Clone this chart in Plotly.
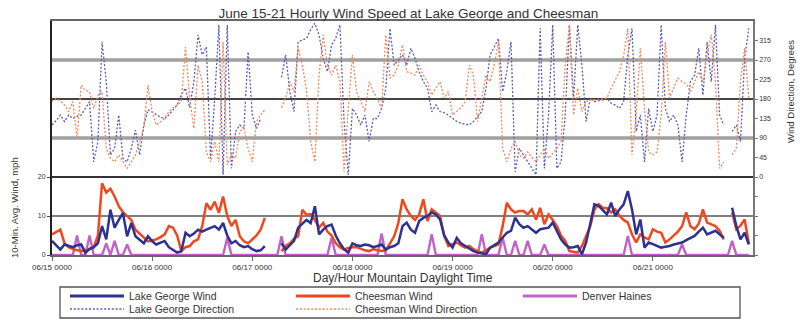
import plotly.graph_objects as go

# ---------------- data (hourly, 06/15 00:00 .. 06/21 23:00) ----------------
hours = list(range(168))
day_ticks = [0, 24, 48, 72, 96, 120, 144]
day_labels = ["06/15 0000", "06/16 0000", "06/17 0000", "06/18 0000",
              "06/19 0000", "06/20 0000", "06/21 0000"]

lake_george_wind = [
    3.6, 2.5, 1.4, 2.7, 2.3, 2.0, 2.5, 2.7, 0.6, 1.5,
    2.0, 3.0, 7.4, 4.0, 11.6, 7.0, 9.0, 10.8, 4.8, 8.2,
    4.8, 4.0, 3.0, 4.8, 3.5, 2.7, 3.2, 3.6, 2.0, 1.2,
    0.6, 1.0, 5.7, 4.8, 5.5, 6.5, 6.0, 6.5, 7.0, 7.4,
    6.5, 8.2, 5.0, 3.0, 3.6, 2.5, 2.0, 2.3, 1.5, 1.0,
    1.2, 2.3, None, None, None, 3.0, 1.4, 2.5, 3.6, 7.0,
    8.0, 9.0, 8.2, 12.5, 5.3, 6.5, 7.4, 7.8, 5.0, 3.0,
    1.5, 0.6, 3.0, 2.5, 2.3, 2.7, 2.5, 2.0, 2.3, 2.7,
    1.4, 2.0, 2.3, 3.0, 7.4, 8.3, 6.5, 5.7, 8.7, 9.5,
    10.0, 10.9, 10.4, 9.1, 5.0, 3.2, 1.9, 4.4, 3.0, 2.3,
    1.5, 1.0, 0.6, 0.4, 0.2, 1.9, 2.5, 3.2, 4.5, 5.7,
    6.2, 9.6, 7.9, 7.0, 7.4, 6.5, 5.7, 6.6, 6.8, 7.0,
    8.3, 6.2, 4.0, 2.7, 1.9, 2.0, 2.3, 0.2, 3.2, 8.0,
    13.0, 12.6, 11.5, 10.4, 13.4, 10.0, 11.7, 13.0, 16.4, 11.7,
    5.3, 9.1, 1.9, 3.2, 2.8, 2.3, 1.9, 2.1, 2.3, 2.7,
    3.0, 3.2, 3.8, 4.4, 4.9, 6.0, 7.0, 5.3, 5.8, 6.2,
    5.3, 4.4, None, 12.1, 7.4, 4.0, 5.7, 2.7]

cheesman_wind = [
    5.3, 6.0, 6.5, 3.0, 2.0, 1.5, 1.2, 1.0, 1.2, 1.5,
    2.0, 5.0, 18.4, 16.0, 17.0, 15.0, 12.5, 11.0, 10.0, 9.0,
    6.5, 5.5, 4.4, 3.5, 3.8, 4.0, 4.6, 5.3, 7.4, 7.0,
    5.0, 1.0, 2.0, 2.3, 3.5, 4.0, 7.4, 13.3, 11.6, 13.7,
    10.8, 15.0, 10.0, 7.4, 9.0, 4.8, 3.5, 3.0, 4.0, 5.0,
    6.5, 9.5, None, None, None, 1.0, 2.3, 3.0, 4.2, 4.8,
    11.6, 10.3, 10.5, 9.0, 7.0, 8.2, 6.0, 5.0, 3.0, 2.0,
    1.4, 1.8, 2.0, 2.0, 1.5, 1.2, 1.0, 1.5, 1.2, 1.0,
    1.2, 3.0, 4.8, 8.2, 14.3, 11.7, 10.0, 9.0, 10.4, 14.3,
    8.7, 11.7, 10.9, 10.0, 4.9, 2.3, 2.8, 3.2, 2.5, 1.9,
    2.3, 1.5, 1.0, 0.6, 1.2, 1.9, 2.3, 2.7, 7.4, 13.4,
    11.7, 10.9, 11.3, 11.3, 10.4, 11.7, 9.1, 12.1, 7.9, 10.4,
    9.0, 7.4, 5.0, 3.6, 1.0, 0.8, 0.6, 2.3, 5.0, 7.4,
    11.7, 13.0, 12.1, 12.0, 10.9, 11.7, 10.0, 9.0, 8.3, 5.3,
    3.2, 5.3, 4.5, 4.0, 6.6, 6.0, 5.7, 3.2, 4.0, 4.9,
    6.0, 7.4, 10.9, 7.4, 6.6, 8.0, 11.7, 8.3, 7.8, 7.4,
    6.2, 4.0, None, 10.9, 6.6, 7.5, 9.1, 3.0]

denver_haines = [
    0, 0, 0, 0, 0, 0, 5.0, 0, 0, 5.0,
    0, 0, 0, 3.0, 0, 3.6, 0, 0, 2.7, 0,
    0, 0, 0, 0, 0, 0, 0, 0, 0, 0,
    0, 0, 0, 0, 0, 0, 0, 0, 0, 0,
    0, 0, 4.4, 0, 0, 0, 0, 0, 0, 0,
    0, 0, 0, 0, 0, 4.8, 0, 0, 0, 0,
    0, 0, 0, 0, 0, 0, 0, 4.4, 0, 0,
    0, 0, 0, 0, 0, 0, 0, 0, 0, 5.5,
    0, 0, 0, 0, 0, 0, 0, 0, 0, 0,
    0, 5.3, 0, 0, 0, 0, 0, 0, 0, 0,
    0, 0, 0, 5.3, 0, 0, 0, 0, 4.4, 0,
    0, 3.6, 0, 0, 3.6, 0, 0, 0, 2.7, 0,
    0, 0, 0, 0, 0, 0, 0, 0, 0, 0,
    0, 0, 0, 0, 0, 0, 0, 0, 4.9, 0,
    0, 0, 0, 0, 0, 0, 0, 0, 0, 0,
    0, 2.7, 0, 0, 0, 0, 0, 0, 0, 0,
    0, 0, 0, 3.6, 0, 0, 0, 0]

lake_george_dir = [
    120, 130, 143, 128, 143, 135, 140, 143, 158, 174,
    35, 82, 312, 220, 51, 66, 143, 43, 35, 66,
    108, 51, 120, 155, 150, 143, 138, 135, 143, 155,
    166, 190, 205, 160, 220, 328, 282, 300, 43, 182,
    351, 5, 351, 20, 105, 120, 112, 289, 143, 112,
    135, None, None, None, None, 230, 282, 197, 151, 312,
    316, 320, 340, 355, 328, 274, 243, 305, 320, 351,
    128, 5, 158, 143, 120, 143, 82, 135, 135, 158,
    205, 343, 258, 270, 282, 258, 297, 274, 243, 220,
    205, 151, 166, 151, 148, 143, 135, 128, 124, 122,
    120, 128, 140, 151, 205, 282, 300, 320, 197, 243,
    312, 12, 66, 51, 35, 20, 5, 343, 20, 143,
    351, 20, 35, 143, 351, 180, 351, 258, 128, 182,
    174, 176, 178, 182, 170, 166, 158, 174, 282, 343,
    105, 143, 35, 158, 105, 143, 351, 158, 128, 143,
    120, 35, 143, 220, 235, 297, 189, 312, 220, 351,
    143, 120, None, 105, 120, 82, 274, 343]

cheesman_dir = [
    174, 182, 175, 166, 151, 174, 89, 212, 200, 197,
    158, 189, 197, 66, 43, 35, 51, 35, 20, 35,
    51, 82, 112, 212, 151, 120, 128, 135, 151, 160,
    166, 174, 300, 182, 112, 258, 220, 58, 35, 82,
    35, 312, 28, 51, 43, 105, 112, 66, 35, 128,
    143, 155, None, None, None, 160, 182, 220, 197, 297,
    258, 200, 82, 35, 235, 328, 258, 235, 258, 220,
    12, 158, 282, 197, 174, 151, 220, 197, 180, 158,
    328, 228, 235, 258, 305, 243, 240, 235, 258, 235,
    220, 189, 205, 220, 182, 197, 143, 151, 160, 174,
    258, 235, 128, 182, 235, 220, 260, 312, 66, 35,
    66, 82, 51, 43, 58, 45, 35, 51, 66, 43,
    55, 66, 82, 258, 351, 143, 205, 151, 174, 178,
    178, 178, 180, 182, 205, 224, 243, 280, 343, 51,
    143, 297, 158, 58, 51, 58, 143, 312, 182, 205,
    228, 220, 215, 197, 220, 243, 220, 282, 328, 220,
    20, 35, None, 51, 66, 220, 297, 182]

wind_ticks = [0, 10, 20]
dir_ticks = [-180, -135, -90, -45, 0, 45, 90, 135, 180, 225, 270, 315]
dir_labels = ["", "", "", "", "0", "45", "90", "135", "180", "225", "270", "315"]

series_names = ["Lake George Wind", "Cheesman Wind", "Denver Haines",
                "Lake George Direction", "Cheesman Wind Direction"]

# ---------------- styles ----------------
FONT = "Liberation Sans, Arial, sans-serif"
C_LGW = "#2d3190"
C_CW = "#f0481c"
C_DH = "#c262c8"
C_LGD = "#5a5cb4"
C_CD = "#f2875a"
DIR_DASH = "2px,1.8px"

W, H = 804, 320
L, R, T, B = 52, 51, 21, 65
PW, PH = W - L - R, H - T - B


def px(p):
    return (p - L) / PW


def py(p):
    return (H - B - p) / PH


fig = go.Figure()

fig.add_trace(go.Scatter(x=hours, y=lake_george_dir, yaxis="y2", mode="lines",
                         name=series_names[3], showlegend=False,
                         line=dict(color=C_LGD, width=1.3, dash=DIR_DASH)))
fig.add_trace(go.Scatter(x=hours, y=cheesman_dir, yaxis="y2", mode="lines",
                         name=series_names[4], showlegend=False,
                         line=dict(color=C_CD, width=1.3, dash=DIR_DASH)))
fig.add_trace(go.Scatter(x=hours, y=denver_haines, mode="lines",
                         name=series_names[2], showlegend=False,
                         line=dict(color=C_DH, width=2.4)))
fig.add_trace(go.Scatter(x=hours, y=cheesman_wind, mode="lines",
                         name=series_names[1], showlegend=False,
                         line=dict(color=C_CW, width=2.5)))
fig.add_trace(go.Scatter(x=hours, y=lake_george_wind, mode="lines",
                         name=series_names[0], showlegend=False,
                         line=dict(color=C_LGW, width=2.5)))

# horizontal gridlines (left-axis units)
grid_styles = {10: ("#555555", 1.5), 20: ("#333333", 1.8), 30: ("#a0a0a0", 3.5),
               40: ("#444444", 1.8), 50: ("#a0a0a0", 3.5)}
shapes = []
for yv, (col, w) in grid_styles.items():
    shapes.append(dict(type="line", xref="paper", x0=0, x1=1, yref="y", y0=yv, y1=yv,
                       line=dict(color=col, width=w), layer="below"))

# legend box (drawn in paper space)
shapes.append(dict(type="rect", xref="paper", yref="paper",
                   x0=px(60), x1=px(740), y0=py(287), y1=py(318),
                   line=dict(color="#555555", width=1.3), fillcolor="white"))
legend_items = [
    (series_names[0], C_LGW, "solid", 2.8, 70, 296),
    (series_names[1], C_CW, "solid", 2.8, 296, 296),
    (series_names[2], C_DH, "solid", 2.8, 523, 296),
    (series_names[3], C_LGD, DIR_DASH, 1.6, 70, 309),
    (series_names[4], C_CD, DIR_DASH, 1.6, 296, 309),
]
annotations = []
for name, col, dash, w, x0, yy in legend_items:
    shapes.append(dict(type="line", xref="paper", yref="paper",
                       x0=px(x0), x1=px(x0 + 54), y0=py(yy), y1=py(yy),
                       line=dict(color=col, width=w, dash=dash)))
    annotations.append(dict(text=name, xref="paper", yref="paper",
                            x=px(x0 + 57), y=py(yy), xanchor="left", yanchor="middle",
                            showarrow=False,
                            font=dict(family=FONT, size=10.5, color="#333333")))

annotations += [
    dict(text="Day/Hour Mountain Daylight Time", xref="paper", yref="paper",
         x=0.5, y=py(278), xanchor="center", yanchor="middle",
         showarrow=False, font=dict(family=FONT, size=12, color="#333333")),
    dict(text="10-Min. Avg. Wind, mph", xref="paper", yref="paper",
         x=px(14), y=py(208), xanchor="center",
         yanchor="middle", textangle=-90, showarrow=False,
         font=dict(family=FONT, size=9.5, color="#333333")),
    dict(text="Wind Direction, Degrees", xref="paper", yref="paper",
         x=px(790), y=py(92), xanchor="center",
         yanchor="middle", textangle=-90, showarrow=False,
         font=dict(family=FONT, size=9.5, color="#333333")),
]

fig.update_layout(
    width=W, height=H,
    margin=dict(l=L, r=R, t=T, b=B, autoexpand=False),
    paper_bgcolor="white", plot_bgcolor="white",
    font=dict(family=FONT, color="#333333", size=9),
    showlegend=False,
    title=dict(text="June 15-21 Hourly Wind Speed at Lake George and Cheesman",
               x=0.508, xanchor="center", y=1 - 13 / H, yanchor="middle",
               font=dict(family=FONT, size=13.5, color="#333333")),
    xaxis=dict(range=[0, 168], tickvals=day_ticks, ticktext=day_labels,
               showgrid=False, zeroline=False, showline=True, mirror=True,
               linecolor="#666666", linewidth=1.5, ticks="outside", ticklen=4,
               tickcolor="#666666", tickfont=dict(size=8, color="#333333")),
    yaxis=dict(range=[0, 60], tickvals=wind_ticks, showgrid=False, zeroline=False,
               showline=True, linecolor="#222222", linewidth=2, ticks="outside",
               ticklen=3, tickcolor="#444444", tickfont=dict(size=7, color="#333333")),
    yaxis2=dict(range=[-180, 360], overlaying="y", side="right",
                tickvals=dir_ticks, ticktext=dir_labels, showgrid=False,
                zeroline=False, showline=True, linecolor="#777777", linewidth=1.5,
                ticks="outside", ticklen=3, tickcolor="#777777",
                tickfont=dict(size=7, color="#333333")),
    shapes=shapes,
    annotations=annotations,
)

fig.write_html("out.html")
